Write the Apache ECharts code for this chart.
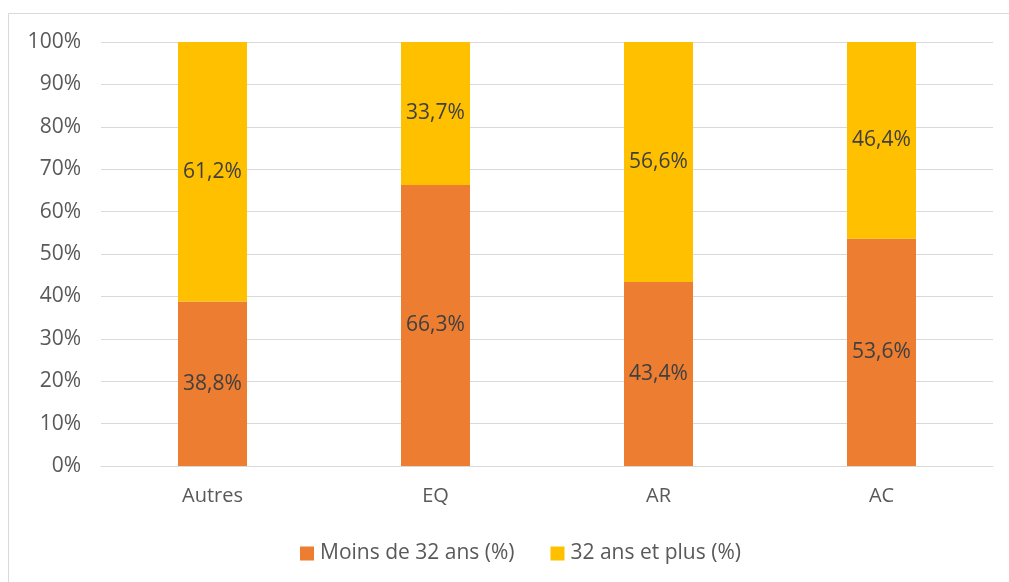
<!DOCTYPE html>
<html><head><meta charset="utf-8">
<script src="https://cdn.jsdelivr.net/npm/echarts@6/dist/echarts.min.js"></script>
<style>html,body{margin:0;padding:0;background:#fff}#c{width:1009px;height:582px}</style>
</head><body><div id="c"></div>
<script>
const categories = ['Autres', 'EQ', 'AR', 'AC'];
const moins32 = [38.8, 66.3, 43.4, 53.6];
const plus32 = [61.2, 33.7, 56.6, 46.4];
const seriesNames = ['Moins de 32 ans (%)', '32 ans et plus (%)'];
const FONT = 'Open Sans';
const FS = 21;
const fmt = p => p.value.toFixed(1).replace('.', ',') + '%';
const chart = echarts.init(document.getElementById('c'));
chart.setOption({
  animation: false,
  textStyle: {fontFamily: FONT},
  graphic: [{type: 'rect', shape: {x: 8.5, y: 13.5, width: 1010, height: 580}, style: {fill: 'none', stroke: '#d9d9d9', lineWidth: 1}, silent: true}],
  grid: {left: 101, right: 16, top: 42, bottom: 116},
  legend: {top: 538, left: 295, itemWidth: 14, itemHeight: 14, itemGap: 36, icon: 'rect',
    textStyle: {fontFamily: FONT, fontSize: FS, color: '#595959', padding: [0, 0, 0, 1]}, data: seriesNames},
  xAxis: {type: 'category', data: categories, axisTick: {show: false},
    axisLine: {lineStyle: {color: '#d9d9d9', width: 1}},
    axisLabel: {fontFamily: FONT, fontSize: 20, color: '#595959', margin: 20}},
  yAxis: {type: 'value', min: 0, max: 100, interval: 10,
    axisLabel: {formatter: '{value}%', fontFamily: FONT, fontSize: FS, color: '#595959', margin: 20},
    splitLine: {lineStyle: {color: '#d9d9d9', width: 1}}, axisLine: {show: false}, axisTick: {show: false}},
  series: [
    {name: seriesNames[0], type: 'bar', stack: 's', data: moins32, barWidth: 69, itemStyle: {color: '#ED7D31'},
      label: {show: true, position: 'inside', formatter: fmt, fontFamily: FONT, fontSize: FS, color: '#404040'}},
    {name: seriesNames[1], type: 'bar', stack: 's', data: plus32, barWidth: 69, itemStyle: {color: '#FFC000'},
      label: {show: true, position: 'inside', formatter: fmt, fontFamily: FONT, fontSize: FS, color: '#404040'}}
  ]
});
</script></body></html>
